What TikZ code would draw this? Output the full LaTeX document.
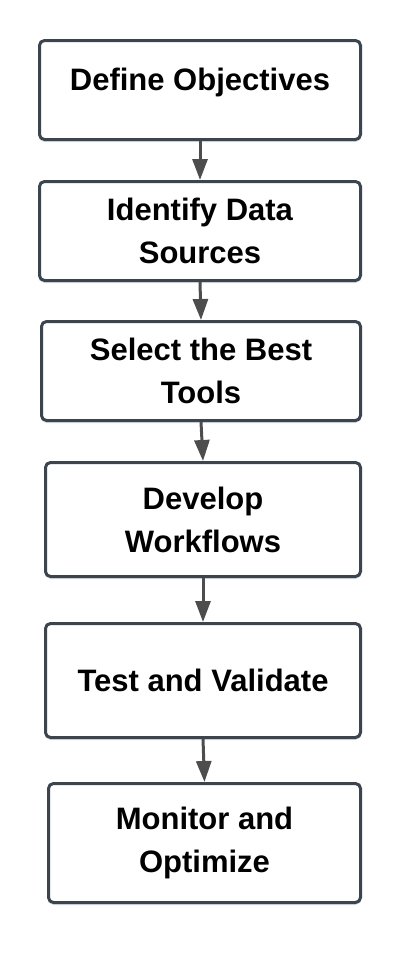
\documentclass[tikz,border=0pt]{standalone}
\usepackage{fontspec}
\setmainfont{Liberation Sans}
\usepackage{xcolor}
\usetikzlibrary{positioning,arrows.meta,shadows}

\definecolor{boxline}{HTML}{3B4550}
\definecolor{arrowgray}{HTML}{4D4D4D}

\tikzset{
    stagebox/.style={draw=boxline, line width=3pt, rounded corners=5pt, fill=white,
        align=center, font=\bfseries\fontsize{31}{43}\selectfont,
        drop shadow={shadow xshift=0pt, shadow yshift=-2.5pt, opacity=0.12, fill=black}},
    flow/.style={draw=arrowgray, line width=3pt, -{Triangle[length=21pt, width=15pt]}}
}

\begin{document}
\begin{tikzpicture}[x=1pt, y=-1pt]
    % Canvas
    \useasboundingbox (0,0) rectangle (402,970);

    % Stages
    \node[stagebox, minimum width=321pt, minimum height=99pt, text depth=22pt] (objectives) at (200,90) {Define Objectives};
    \node[stagebox, minimum width=321pt, minimum height=99pt] (sources) at (200,231) {Identify Data\\Sources};
    \node[stagebox, minimum width=319pt, minimum height=99pt] (tools) at (201,371) {Select the Best\\Tools};
    \node[stagebox, minimum width=315pt, minimum height=114pt] (workflows) at (203,519.5) {Develop\\Workflows};
    \node[stagebox, minimum width=315pt, minimum height=114pt] (validate) at (203,680.5) {Test and Validate};
    \node[stagebox, minimum width=312pt, minimum height=119pt] (optimize) at (204.5,843) {Monitor and\\Optimize};

    % Connectors
    \draw[flow] (objectives.south) -- (sources.north);
    \draw[flow] (sources.south) -- (tools.north);
    \draw[flow] (tools.south) -- (workflows.north);
    \draw[flow] (workflows.south) -- (validate.north);
    \draw[flow] (validate.south) -- (optimize.north);
\end{tikzpicture}
\end{document}
